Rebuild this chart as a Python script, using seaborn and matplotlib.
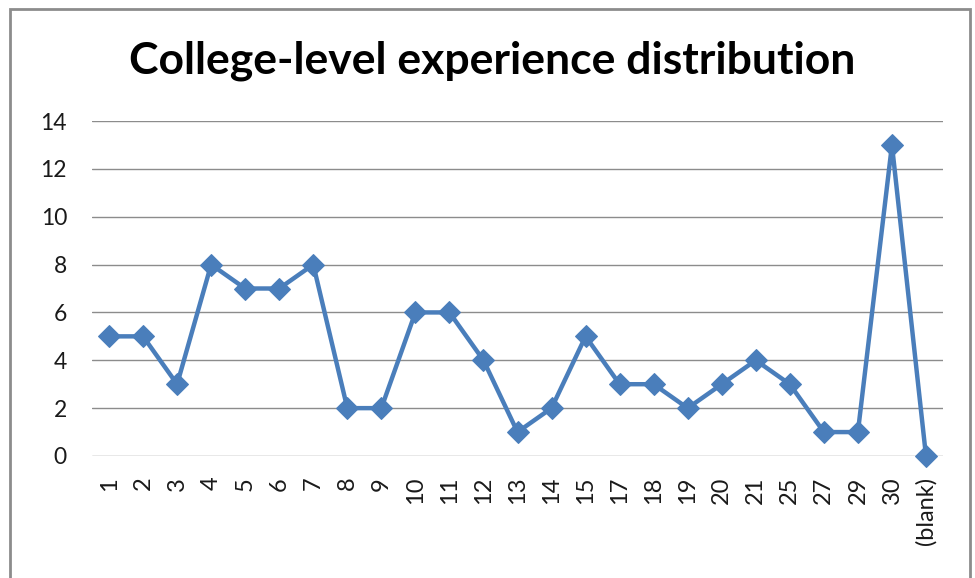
import pandas as pd
import matplotlib
matplotlib.use('Agg')
import matplotlib.pyplot as plt
import seaborn as sns
from matplotlib.patches import Rectangle

# data
years = ['1', '2', '3', '4', '5', '6', '7', '8', '9', '10', '11', '12', '13',
         '14', '15', '17', '18', '19', '20', '21', '25', '27', '29', '30', '(blank)']
counts = [5, 5, 3, 8, 7, 7, 8, 2, 2, 6, 6, 4, 1, 2, 5, 3, 3, 2, 3, 4, 3, 1, 1, 13, 0]

df = pd.DataFrame({'years': years, 'count': counts})
df['pos'] = range(len(df))

sns.set_style('white')
plt.rcParams['font.family'] = ['Lato', 'DejaVu Sans']

fig = plt.figure(figsize=(9.75, 5.78), dpi=100)
ax = fig.add_axes([92 / 975, 1 - 456 / 578, (943 - 92) / 975, (456 - 121) / 578])

sns.lineplot(data=df, x='pos', y='count', ax=ax, color='#4a7ebb', linewidth=3.2,
             marker='D', markersize=11, markeredgecolor='#4a7ebb', clip_on=False)

ax.set_xlim(-0.5, len(df) - 0.5)
ax.set_ylim(0, 14)
ax.set_yticks(range(0, 15, 2))
ax.set_xticks(df['pos'])
ax.set_xticklabels(df['years'], rotation=90, fontsize=17, color='#1a1a1a')
ax.tick_params(axis='y', labelsize=16.5, labelcolor='#1a1a1a', pad=18)
ax.tick_params(axis='x', pad=15)
ax.tick_params(length=0)
ax.yaxis.grid(True, color='#8c8c8c', linewidth=1)
ax.set_axisbelow(True)
for s in ax.spines.values():
    s.set_visible(False)
ax.set_xlabel('')
ax.set_ylabel('')

fig.text(492 / 975, 1 - 61 / 578, 'College-level experience distribution',
         ha='center', va='center', fontsize=32, fontweight='bold', color='black')

# chart border
fig.patches.append(Rectangle((10 / 975, -0.05), (970 - 10) / 975, 1 - 9 / 578 + 0.05,
                             transform=fig.transFigure, fill=False,
                             edgecolor='#8c8c8c', linewidth=2))

fig.savefig('out.png', dpi=100)
